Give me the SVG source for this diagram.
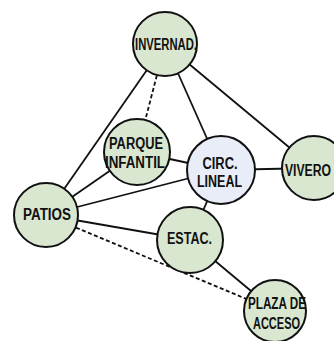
<svg xmlns="http://www.w3.org/2000/svg" width="334" height="341" viewBox="0 0 334 341">
<style>
.n{fill:#d9e7d0;stroke:#111;stroke-width:2}
.c{fill:#e9edf7;stroke:#111;stroke-width:2}
.e{stroke:#111;stroke-width:1.8;fill:none}
.d{stroke:#111;stroke-width:1.8;fill:none;stroke-dasharray:4 2.5}
text{font-family:"Liberation Sans",Arial,sans-serif;font-weight:bold;font-size:16px;fill:#111;text-anchor:middle}
</style>
<rect width="334" height="341" fill="#fff"/>
<g id="connectors">
<line class="e" x1="165" y1="44" x2="46" y2="215"/>
<line class="d" x1="165" y1="44" x2="137" y2="152"/>
<line class="e" x1="165" y1="44" x2="221" y2="170"/>
<line class="e" x1="165" y1="44" x2="314" y2="168"/>
<line class="e" x1="137" y1="152" x2="221" y2="170"/>
<line class="e" x1="46" y1="215" x2="137" y2="152"/>
<line class="e" x1="46" y1="215" x2="221" y2="170"/>
<line class="e" x1="221" y1="170" x2="314" y2="168"/>
<line class="e" x1="221" y1="170" x2="190" y2="240"/>
<line class="e" x1="46" y1="215" x2="190" y2="240"/>
<line class="d" x1="46" y1="215" x2="275" y2="311"/>
<line class="e" x1="190" y1="240" x2="275" y2="311"/>
</g>
<g id="invernad">
<circle class="n" cx="165" cy="44" r="32"/>
<text x="166" y="50" textLength="62" lengthAdjust="spacingAndGlyphs">INVERNAD.</text>
</g>
<g id="parque">
<circle class="n" cx="137" cy="152" r="33"/>
<text x="136" y="148.5" textLength="54" lengthAdjust="spacingAndGlyphs">PARQUE</text>
<text x="135" y="168" textLength="60" lengthAdjust="spacingAndGlyphs">INFANTIL</text>
</g>
<g id="circ">
<circle class="c" cx="221" cy="170" r="34"/>
<text x="220" y="168.5" textLength="35" lengthAdjust="spacingAndGlyphs">CIRC.</text>
<text x="219.5" y="187" textLength="45" lengthAdjust="spacingAndGlyphs">LINEAL</text>
</g>
<g id="vivero">
<circle class="n" cx="314" cy="168" r="32"/>
<text x="308" y="175.5" textLength="46" lengthAdjust="spacingAndGlyphs">VIVERO</text>
</g>
<g id="patios">
<circle class="n" cx="46" cy="215" r="32"/>
<text x="47" y="220" textLength="48" lengthAdjust="spacingAndGlyphs">PATIOS</text>
</g>
<g id="estac">
<circle class="n" cx="190" cy="240" r="33"/>
<text x="189.5" y="243.5" textLength="45" lengthAdjust="spacingAndGlyphs">ESTAC.</text>
</g>
<g id="plaza">
<circle class="n" cx="275" cy="311" r="31"/>
<text x="277" y="308.5" textLength="58" lengthAdjust="spacingAndGlyphs">PLAZA DE</text>
<text x="276.5" y="328.5" textLength="47" lengthAdjust="spacingAndGlyphs">ACCESO</text>
</g>
</svg>
